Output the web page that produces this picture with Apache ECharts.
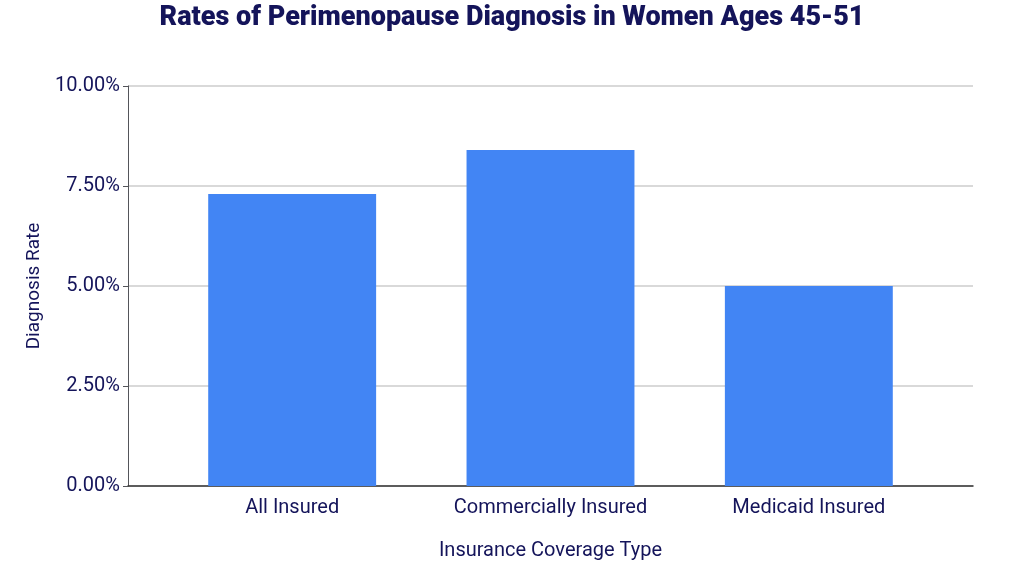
<!DOCTYPE html>
<html>
<head>
<meta charset="utf-8">
<script src="https://cdn.jsdelivr.net/npm/echarts@6/dist/echarts.min.js"></script>
<style>html,body{margin:0;padding:0;background:#fff}#chart{width:1024px;height:575px}</style>
</head>
<body>
<div id="chart"></div>
<script>
const categories = ['All Insured', 'Commercially Insured', 'Medicaid Insured'];
const rates = [7.3, 8.4, 5.0];
const navy = '#14145a';

const chart = echarts.init(document.getElementById('chart'));
chart.setOption({
  textStyle: { fontFamily: 'Roboto' },
  title: {
    text: 'Rates of Perimenopause Diagnosis in Women Ages 45-51',
    left: 'center', top: 0,
    textStyle: { fontSize: 27, fontWeight: 900, color: navy, fontFamily: 'Roboto' }
  },
  grid: [
    { left: 163, right: 86, top: 86, bottom: 89 },
    { left: 128, right: 51, top: 86, bottom: 89 }
  ],
  xAxis: [{
    type: 'category',
    gridIndex: 0,
    data: categories,
    name: 'Insurance Coverage Type',
    nameLocation: 'middle',
    nameGap: 55,
    nameTextStyle: { fontSize: 20, color: navy },
    axisTick: { show: false },
    axisLine: { show: false },
    axisLabel: { fontSize: 20, color: navy, margin: 12 }
  }, {
    type: 'value',
    gridIndex: 1,
    min: 0, max: 1,
    axisLabel: { show: false },
    axisTick: { show: false },
    splitLine: { show: false },
    axisLine: { lineStyle: { color: '#333', width: 1.5 } }
  }],
  yAxis: [{
    type: 'value',
    gridIndex: 0,
    min: 0, max: 10, interval: 2.5,
    axisLabel: { show: false },
    splitLine: { show: false }
  }, {
    type: 'value',
    gridIndex: 1,
    min: 0, max: 10, interval: 2.5,
    name: 'Diagnosis Rate',
    nameLocation: 'middle',
    nameGap: 82,
    nameTextStyle: { fontSize: 19, color: navy },
    axisLabel: { fontSize: 20, color: navy, formatter: v => v.toFixed(2) + '%' },
    splitLine: { lineStyle: { color: '#ccc', width: 1.5 } }
  }],
  series: [{
    type: 'bar',
    xAxisIndex: 0,
    yAxisIndex: 0,
    z: 3,
    data: rates,
    barCategoryGap: '35%',
    itemStyle: { color: '#4285f4' }
  }]
});
</script>
</body>
</html>
